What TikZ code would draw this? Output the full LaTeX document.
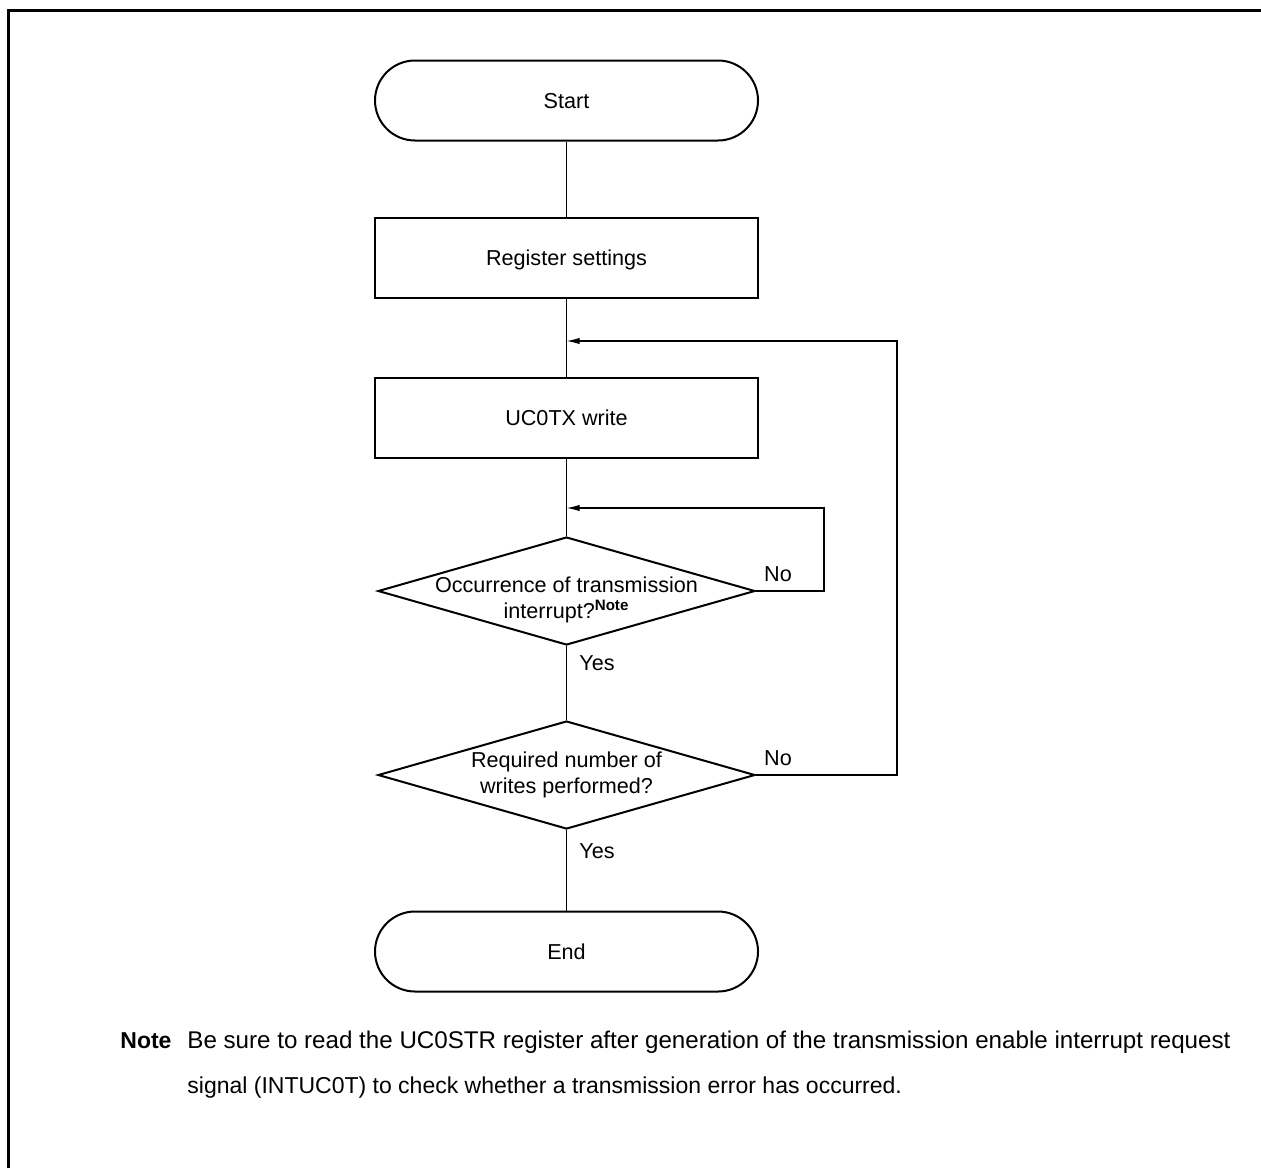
\documentclass[tikz,border=0pt]{standalone}
\usepackage{fontspec}
\setmainfont{Liberation Sans}
\usetikzlibrary{shapes.geometric,arrows.meta}
\newcommand\myfs{\fontsize{10.8pt}{13pt}\selectfont}
\newcommand\mynotefs{\fontsize{11.5pt}{14pt}\selectfont}
\begin{document}
\begin{tikzpicture}[x=0.5pt,y=-0.5pt,
  box/.style={draw,line width=1pt,minimum width=191.5pt,minimum height=40pt,inner sep=0pt,font=\myfs,text height=7.7pt,text depth=0pt},
  term/.style={box,rounded corners=20pt},
  dec/.style={draw,diamond,line width=1pt,minimum width=188.5pt,minimum height=54pt,inner sep=0pt},
  conn/.style={line width=0.65pt},
  arr/.style={conn,-{Latex[length=6.5pt,width=3.2pt]}},
  lbl/.style={font=\myfs,inner sep=0pt},
  notetext/.style={font=\mynotefs,inner sep=0pt,anchor=base west},
]
\useasboundingbox (0,0) rectangle (1261,1168);
\draw[line width=1.5pt] (8.5,1168) -- (8.5,10.5) -- (1261,10.5);

\node[term] (start) at (566.5,100.5) {Start};
\node[box] (reg) at (566.5,258) {Register settings};
\node[box] (tx) at (566.5,418) {UC0TX write};
\node[dec] (d1) at (566.5,591) {};
\node[lbl,align=center] (d1t) at (566.5,600) {Occurrence of transmission\\interrupt?\textsuperscript{\textbf{Note}}};
\node[dec] (d2) at (566.5,775) {};
\node[lbl,align=center] (d2t) at (566.5,775) {Required number of\\writes performed?};
\node[term] (end) at (566.5,951.5) {End};

\coordinate (j1) at (566.5,341);
\coordinate (j2) at (566.5,508);
\coordinate (c1) at (824,508);
\coordinate (c2) at (897,341);

\draw[conn] (start) -- (reg);
\draw[conn] (reg) -- (tx);
\draw[conn] (tx) -- (d1);
\draw[conn] (d1) -- (d2);
\draw[conn] (d2) -- (end);
\draw[arr] (d1.east) -| (c1) -- (j2);
\draw[arr] (d2.east) -| (c2) -- (j1);

\node[lbl] (no1) at (778,574) {No};
\node[lbl] (yes1) at (597,663) {Yes};
\node[lbl] (no2) at (778,758) {No};
\node[lbl] (yes2) at (597,851) {Yes};

\node[notetext] (notelbl) at (120,1048) {\textbf{Note}};
\node[notetext] (note1) at (187,1048) {\resizebox{521.5pt}{!}{\mbox{Be sure to read the UC0STR register after generation of the transmission enable interrupt request}}};
\node[notetext] (note2) at (187,1093) {signal (INTUC0T) to check whether a transmission error has occurred.};
\end{tikzpicture}
\end{document}
